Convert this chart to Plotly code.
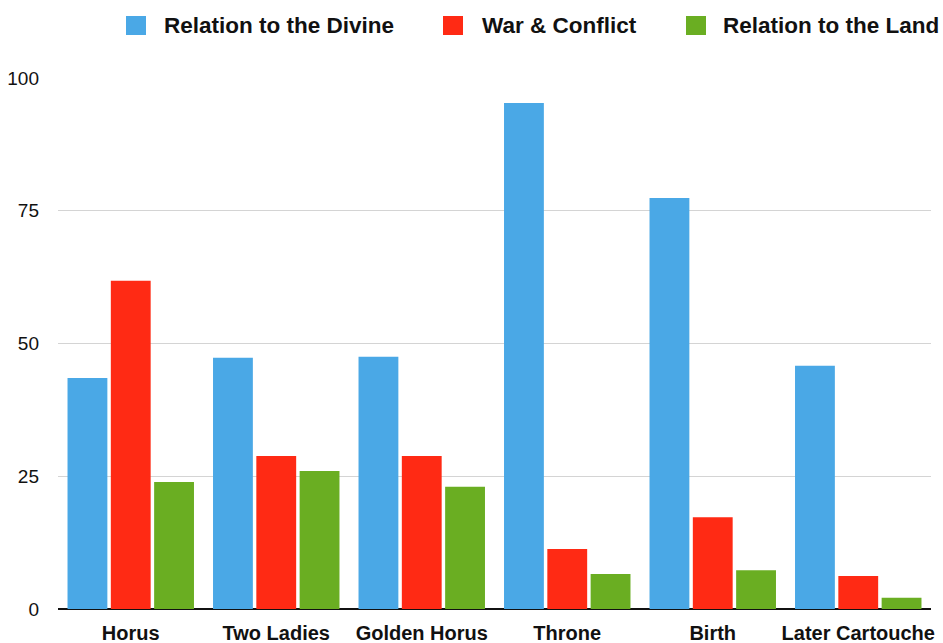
import plotly.graph_objects as go

categories = ["Horus", "Two Ladies", "Golden Horus", "Throne", "Birth", "Later Cartouche"]
series_names = ["Relation to the Divine", "War & Conflict", "Relation to the Land"]
divine = [43.5, 47.3, 47.5, 95.3, 77.4, 45.8]
war = [61.8, 28.8, 28.8, 11.3, 17.3, 6.2]
land = [23.9, 26.0, 23.0, 6.6, 7.3, 2.1]
y_ticks = [0, 25, 50, 75, 100]

colors = ["#4aa8e6", "#ff2a14", "#6aae22"]
values = [divine, war, land]

fig = go.Figure()
for name, vals, col in zip(series_names, values, colors):
    fig.add_trace(go.Bar(x=categories, y=vals, name=name, marker_color=col,
                         marker_line_width=0, showlegend=False))

# custom legend (large squares) in paper coordinates
PL, PW, PB, PH = 58, 873, 609, 531
leg_sq = [126, 443, 686]
leg_tx = [162, 480, 721]
for name, col, sx, tx in zip(series_names, colors, leg_sq, leg_tx):
    fig.add_shape(type="rect", xref="paper", yref="paper",
                  x0=(sx - PL) / PW, x1=(sx + 20 - PL) / PW,
                  y0=(PB - 35) / PH, y1=(PB - 16) / PH,
                  fillcolor=col, line_width=0)
    fig.add_annotation(xref="paper", yref="paper", x=(tx - PL) / PW,
                       y=(PB - 25.5) / PH, text=name, showarrow=False,
                       xanchor="left", yanchor="middle",
                       font=dict(family="Liberation Sans", size=22.5, color="#111",
                                 weight="bold"))

fig.update_layout(
    width=943, height=643,
    margin=dict(l=58, r=12, t=78, b=34),
    paper_bgcolor="white", plot_bgcolor="white",
    barmode="group", bargap=0.107, bargroupgap=0.08,
    font=dict(family="Liberation Sans", color="#111"),
    xaxis=dict(showgrid=False, ticks="", showline=False, automargin=False,
               tickfont=dict(size=20, family="Liberation Sans", weight="bold"),
               ticklabelstandoff=10),
    yaxis=dict(range=[0, 100], tickvals=y_ticks, showgrid=True, automargin=False,
               gridcolor="#d4d4d4", gridwidth=1.3,
               zeroline=True, zerolinecolor="#111", zerolinewidth=2,
               tickfont=dict(size=19, family="Liberation Sans"),
               ticklabelstandoff=18),
)

fig.write_html("out.html")
